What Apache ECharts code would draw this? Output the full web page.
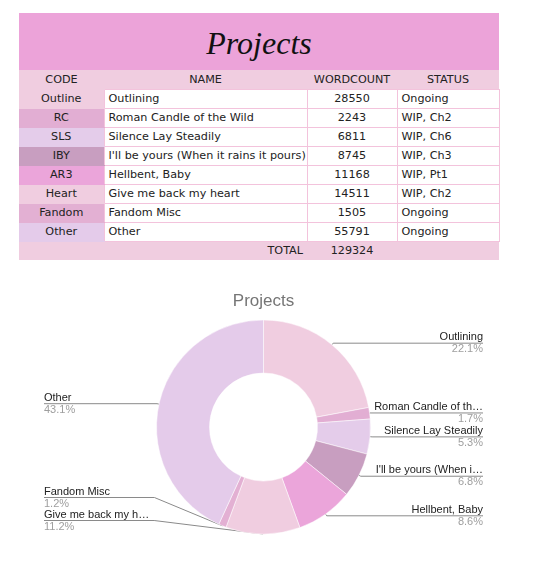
<!DOCTYPE html>
<html>
<head>
<meta charset="utf-8">
<script src="https://cdn.jsdelivr.net/npm/echarts@6/dist/echarts.min.js"></script>
<style>
  html, body { margin: 0; padding: 0; background: #ffffff; width: 543px; height: 576px; overflow: hidden; }
  #tbl { position: absolute; left: 19px; top: 13px; width: 480px; border-collapse: collapse; table-layout: fixed;
         font-family: "DejaVu Sans", sans-serif; font-size: 11.2px; color: #222222; }
  #tbl td { padding: 0 4px; height: 18px; line-height: 18px; white-space: nowrap; overflow: hidden; }
  #tbl .title td { height: 54px; padding-top: 3px; background: #eca3d9; text-align: center; font-family: "Liberation Serif", serif;
                   font-style: italic; font-size: 32px; color: #111; line-height: 54px; }
  #tbl .head td { background: #f0cde0; text-align: center; height: 19px; line-height: 19px; }
  #tbl .data td { background: #ffffff; border: 1px solid #f3c3dc; }
  #tbl .data td.code { text-align: center; border-right: none; border-left: none; }
  #tbl .data td.num { text-align: center; }
  #tbl .total td { background: #f0cde0; height: 18px; line-height: 18px; }
  #chart { position: absolute; left: 0; top: 262px; width: 527px; height: 314px; }
</style>
</head>
<body>
<table id="tbl">
  <colgroup><col style="width:85px"><col style="width:203px"><col style="width:90px"><col style="width:102px"></colgroup>
  <tbody id="tbody"></tbody>
</table>
<div id="chart"></div>
<script>
// ---- data ----
const tableTitle = 'Projects';
const headers = ['CODE', 'NAME', 'WORDCOUNT', 'STATUS'];
const codes = ['Outline', 'RC', 'SLS', 'IBY', 'AR3', 'Heart', 'Fandom', 'Other'];
const names = ['Outlining', 'Roman Candle of the Wild', 'Silence Lay Steadily', "I'll be yours (When it rains it pours)",
               'Hellbent, Baby', 'Give me back my heart', 'Fandom Misc', 'Other'];
const wordcounts = [28550, 2243, 6811, 8745, 11168, 14511, 1505, 55791];
const statuses = ['Ongoing', 'WIP, Ch2', 'WIP, Ch6', 'WIP, Ch3', 'WIP, Pt1', 'WIP, Ch2', 'Ongoing', 'Ongoing'];
const labelNames = ['Outlining', 'Roman Candle of th\u2026', 'Silence Lay Steadily', "I'll be yours (When i\u2026",
                    'Hellbent, Baby', 'Give me back my h\u2026', 'Fandom Misc', 'Other'];
const colors = ['#f0cde0', '#e2aed3', '#e4ccea', '#c89ec0', '#eba5da', '#f0cde0', '#e3b0d3', '#e4cbea'];
const totalLabel = 'TOTAL';
const chartTitle = 'Projects';

// ---- table ----
const tb = document.getElementById('tbody');
let html = '<tr class="title"><td colspan="4">' + tableTitle + '</td></tr>';
html += '<tr class="head">' + headers.map(h => '<td>' + h + '</td>').join('') + '</tr>';
const esc = s => s.replace(/&/g, '&amp;').replace(/</g, '&lt;');
for (let i = 0; i < codes.length; i++) {
  html += '<tr class="data"><td class="code" style="background:' + colors[i] + ';border-top-color:' + colors[i] +
          ';border-bottom-color:' + colors[i] + '">' + codes[i] + '</td>' +
          '<td>' + esc(names[i]) + '</td><td class="num">' + wordcounts[i] + '</td><td>' + statuses[i] + '</td></tr>';
}
const total = wordcounts.reduce((a, b) => a + b, 0);
html += '<tr class="total"><td></td><td style="text-align:right">' + totalLabel + '</td><td style="text-align:center">' + total + '</td><td></td></tr>';
tb.innerHTML = html;

// ---- chart ----
const chart = echarts.init(document.getElementById('chart'), null, { renderer: 'canvas' });
chart.setOption({
  backgroundColor: 'transparent',
  animation: false,
  title: {
    text: chartTitle, left: 'center', top: 26,
    textStyle: { fontFamily: 'Liberation Sans, Arial, sans-serif', fontSize: 17, fontWeight: 'normal', color: '#757575' }
  },
  series: [{
    type: 'pie',
    left: 0, top: 0, right: 0, bottom: 44,
    center: [263.5, 165],
    radius: [54, 107],
    startAngle: 90,
    clockwise: true,
    color: colors,
    itemStyle: { borderColor: '#ffffff', borderWidth: 0.5 },
    label: {
      show: true,
      alignTo: 'edge',
      edgeDistance: 44,
      minMargin: 0,
      overflow: 'none',
      formatter: p => '{n|' + labelNames[p.dataIndex] + '}\n{p|' + p.percent.toFixed(1) + '%}',
      rich: {
        n: { fontFamily: 'Liberation Sans, Arial, sans-serif', fontSize: 11, color: '#222222', lineHeight: 12 },
        p: { fontFamily: 'Liberation Sans, Arial, sans-serif', fontSize: 11, color: '#9e9e9e', lineHeight: 12 }
      }
    },
    labelLine: { show: true, length: 2, length2: 10, lineStyle: { color: '#8a8a8a', width: 1 } },
    labelLayout: function (params) {
      const isLeft = params.labelRect.x < chart.getWidth() / 2;
      const points = params.labelLinePoints;
      if (points) {
        points[2][0] = isLeft ? params.labelRect.x : params.labelRect.x + params.labelRect.width;
      }
      return { labelLinePoints: points };
    },
    data: names.map((n, i) => ({ name: n, value: wordcounts[i] }))
  }]
});
</script>
</body>
</html>
